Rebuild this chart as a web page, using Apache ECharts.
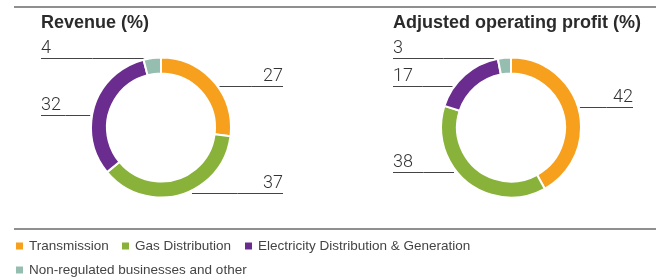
<!DOCTYPE html>
<html>
<head>
<meta charset="utf-8">
<script src="https://cdn.jsdelivr.net/npm/echarts@6/dist/echarts.min.js"></script>
<style>
html,body{margin:0;padding:0;background:#fff;}
#main{width:657px;height:278px;}
</style>
</head>
<body>
<div id="main"></div>
<script>
// ---- data ----
const categories = ['Transmission', 'Gas Distribution', 'Electricity Distribution & Generation', 'Non-regulated businesses and other'];
const revenueValues = [27, 37, 32, 4];
const profitValues = [42, 38, 17, 3];
const chartTitles = ['Revenue (%)', 'Adjusted operating profit (%)'];

// ---- styles / layout ----
const colors = ['#F6A01E', '#88B23A', '#6A2C8F', '#96BEB0'];
const centers = [[161, 127.5], [511, 127.5]];
const labelColumns = [[41, 283], [393, 633]];       // left / right ends of leader lines
const labelLineDy = [[-42, 65, -13, -70], [-21, 44, -42, -70]]; // leader line offsets from centre
const lineRadius = 72;

const chart = echarts.init(document.getElementById('main'), null, {renderer: 'canvas'});

function makeLayout(si, values) {
  const total = values.reduce((a, b) => a + b, 0);
  return function (params) {
    const i = params.dataIndex;
    let before = 0;
    for (let k = 0; k < i; k++) before += values[k];
    const mid = (before + values[i] / 2) / total * 360;
    const right = mid < 180;
    const cx = centers[si][0], cy = centers[si][1];
    const dy = labelLineDy[si][i];
    const y = Math.round(cy + dy) + 0.5;
    const dx = Math.sqrt(Math.max(0, lineRadius * lineRadius - dy * dy));
    const xr = right ? cx + dx : cx - dx;
    const xe = right ? labelColumns[si][1] : labelColumns[si][0];
    return {
      x: xe,
      y: y - 1,
      align: right ? 'right' : 'left',
      verticalAlign: 'bottom',
      labelLinePoints: [[xr, y], [(xr + xe) / 2, y], [xe, y]]
    };
  };
}

function pieSeries(si, values) {
  return {
    type: 'pie',
    center: centers[si],
    radius: [54, 70],
    startAngle: 90,
    clockwise: true,
    avoidLabelOverlap: false,
    silent: true,
    itemStyle: {borderColor: '#fff', borderWidth: 2},
    label: {
      show: true,
      formatter: '{c}',
      fontFamily: 'Roboto',
      fontWeight: 300,
      fontSize: 18,
      lineHeight: 18,
      color: '#333'
    },
    labelLine: {show: true, length: 0, length2: 0, smooth: false, lineStyle: {color: '#444', width: 1}},
    labelLayout: makeLayout(si, values),
    data: categories.map((c, i) => ({name: c, value: values[i], itemStyle: {color: colors[i]}}))
  };
}

const legendPos = [[14, 238], [120, 238], [243, 238], [14, 262]];
const legends = categories.map((c, i) => ({
  data: [c],
  left: legendPos[i][0],
  top: legendPos[i][1],
  padding: 0,
  icon: 'rect',
  itemWidth: 9,
  itemHeight: 9,
  selectedMode: false,
  textStyle: {fontFamily: 'Liberation Sans', fontSize: 13.5, lineHeight: 16, color: '#444'}
}));

chart.setOption({
  animation: false,
  title: chartTitles.map((t, i) => ({
    text: t,
    left: labelColumns[i][0],
    top: 14,
    padding: 0,
    textStyle: {fontFamily: 'Liberation Sans', fontWeight: 'bold', fontSize: 18, color: '#2b2b2b'}
  })),
  legend: legends,
  graphic: [
    {type: 'line', shape: {x1: 14, y1: 7, x2: 656, y2: 7}, style: {stroke: '#8f8f8f', lineWidth: 2}, silent: true},
    {type: 'line', shape: {x1: 14, y1: 229, x2: 656, y2: 229}, style: {stroke: '#8f8f8f', lineWidth: 2}, silent: true}
  ],
  series: [pieSeries(0, revenueValues), pieSeries(1, profitValues)]
});
</script>
</body>
</html>
